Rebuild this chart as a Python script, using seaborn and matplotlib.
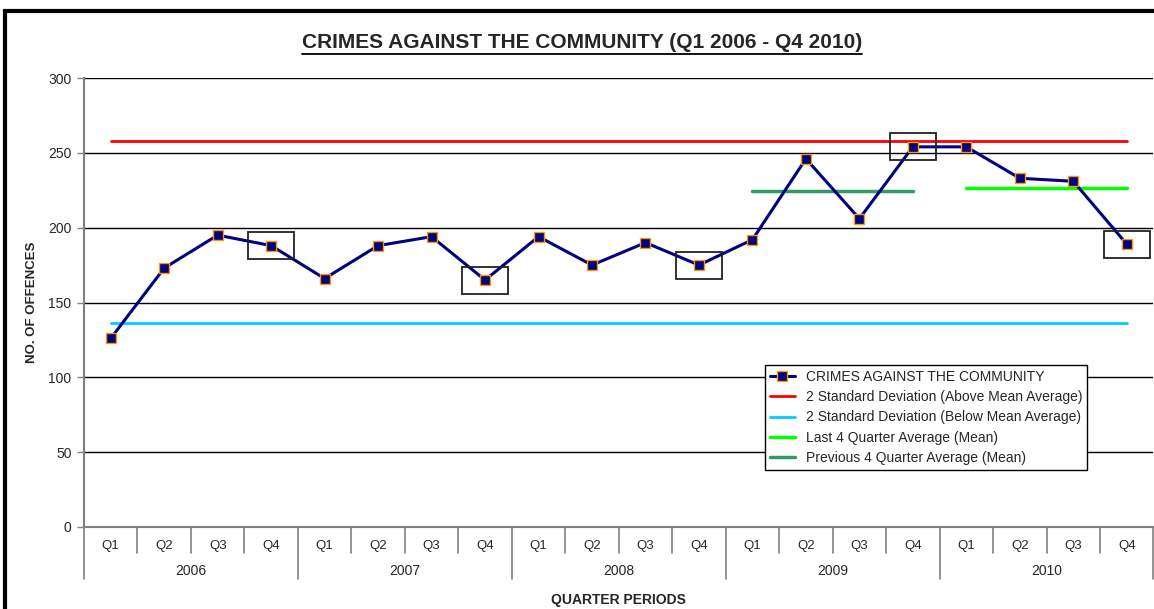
import numpy as np
import pandas as pd
import matplotlib
matplotlib.use("Agg")
import matplotlib.pyplot as plt
import matplotlib.transforms as mtransforms
from matplotlib.patches import Rectangle
from matplotlib.lines import Line2D
import seaborn as sns

# Data
years = ["2006", "2007", "2008", "2009", "2010"]
quarters = ["Q1", "Q2", "Q3", "Q4"]
offences = [126, 173, 195, 188,
            166, 188, 194, 165,
            194, 175, 190, 175,
            192, 246, 206, 254,
            254, 233, 231, 189]
upper_2sd = 257.8
lower_2sd = 136.2
prev_4q_mean = 224.5   # 2009
last_4q_mean = 226.75  # 2010

df = pd.DataFrame({
    "year": np.repeat(years, len(quarters)),
    "quarter": quarters * len(years),
    "offences": offences,
})
df["pos"] = np.arange(len(df))

sns.set_style("white")
plt.rcParams["font.family"] = ["Liberation Sans", "DejaVu Sans"]

W, H = 1154, 609
fig = plt.figure(figsize=(W / 100, H / 100), dpi=100)
ax = fig.add_axes([84 / W, 1 - 527 / H, (1153.5 - 84) / W, (527 - 78) / H])

n = len(df)
first, last = df["pos"].iloc[0], df["pos"].iloc[-1]

sns.lineplot(data=df, x="pos", y="offences", ax=ax, color="#000080", lw=2.2,
             marker="s", markersize=6.5, markerfacecolor="#000080",
             markeredgecolor="#FF9900", markeredgewidth=1,
             label="CRIMES AGAINST THE COMMUNITY", zorder=5)
ax.plot([first, last], [upper_2sd] * 2, color="#FF0000", lw=2,
        label="2 Standard Deviation (Above Mean Average)")
ax.plot([first, last], [lower_2sd] * 2, color="#00CCFF", lw=2,
        label="2 Standard Deviation (Below Mean Average)")
y2010 = df[df["year"] == "2010"]["pos"]
y2009 = df[df["year"] == "2009"]["pos"]
ax.plot([y2010.min(), y2010.max()], [last_4q_mean] * 2, color="#00FF00", lw=2.5,
        label="Last 4 Quarter Average (Mean)")
ax.plot([y2009.min(), y2009.max()], [prev_4q_mean] * 2, color="#339966", lw=2.5,
        label="Previous 4 Quarter Average (Mean)")

# boxes around the Q4 points
for _, r in df[df["quarter"] == "Q4"].iterrows():
    ax.add_patch(Rectangle((r["pos"] - 0.43, r["offences"] - 9), 0.86, 18,
                           fill=False, ec="#222222", lw=1.3, zorder=6, clip_on=False))

ax.set_xlim(-0.5, n - 0.5)
ax.set_ylim(0, 300)
ax.set_yticks(range(0, 301, 50))
ax.yaxis.grid(True, color="black", lw=1)
ax.set_axisbelow(True)
ax.tick_params(axis="y", length=5, width=1, color="#808080", pad=4, labelsize=10, left=True)
ax.set_xticks(df["pos"])
ax.set_xticklabels(df["quarter"])
ax.tick_params(axis="x", length=0, pad=9, labelsize=9.5)

for s in ["top", "right"]:
    ax.spines[s].set_visible(False)
for s in ["left", "bottom"]:
    ax.spines[s].set_color("#808080")
    ax.spines[s].set_linewidth(1.5)

# two-level category axis
trans = mtransforms.blended_transform_factory(ax.transData, ax.transAxes)
short = 26 / 449
tall = 52 / 449
for b in np.arange(-0.5, n, 1.0):
    depth = tall if (b + 0.5) % len(quarters) == 0 else short
    ax.add_line(Line2D([b, b], [0, -depth], transform=trans, color="#808080",
                       lw=1.2, clip_on=False))
for yr in years:
    p = df[df["year"] == yr]["pos"].mean()
    ax.text(p, -44 / 449, yr, transform=trans, ha="center", va="center", fontsize=10)

ax.set_xlabel("QUARTER PERIODS", fontsize=10, fontweight="bold")
ax.xaxis.set_label_coords(0.5, -66 / 449)
ax.set_ylabel("NO. OF OFFENCES", fontsize=9.5, fontweight="bold")
ax.yaxis.set_label_coords(-46 / 1069.5, 0.5)

leg = ax.legend(loc="upper left", bbox_to_anchor=((765 - 84) / 1069.5, (527 - 365) / 449),
                fontsize=10, frameon=True, fancybox=False, framealpha=1,
                edgecolor="black", borderpad=0.35, labelspacing=0.45,
                handlelength=1.8, handletextpad=0.8, borderaxespad=0)
leg.get_frame().set_linewidth(1)

# title with underline
title = fig.text(582 / W, 1 - 43 / H, "CRIMES AGAINST THE COMMUNITY (Q1 2006 - Q4 2010)",
                 ha="center", va="center", fontsize=15, fontweight="bold")
fig.canvas.draw()
bb = title.get_window_extent().transformed(fig.transFigure.inverted())
fig.add_artist(Line2D([bb.x0, bb.x1], [1 - 54 / H] * 2, transform=fig.transFigure,
                      color="black", lw=1.3))

# chart frame
fig.add_artist(Rectangle((5 / W, -0.1), 1.2, 1.1 - 11 / H, transform=fig.transFigure,
                         fill=False, ec="black", lw=3))

fig.savefig("out.png", dpi=100)
